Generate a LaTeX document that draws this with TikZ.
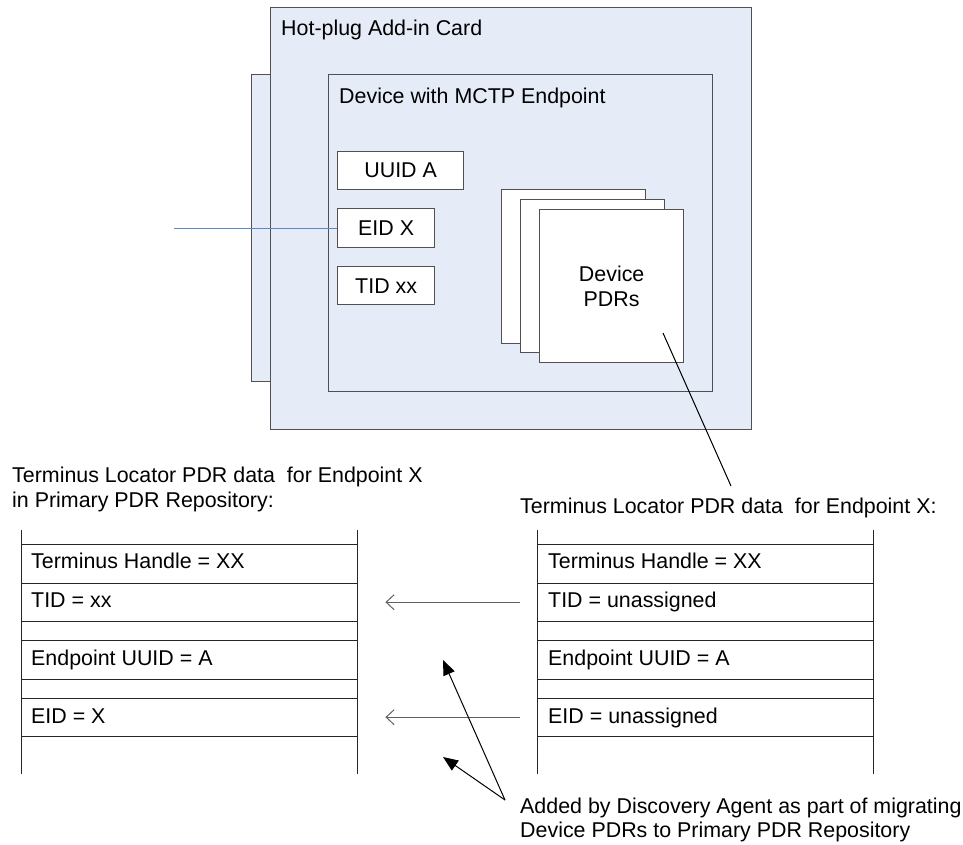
\documentclass[tikz,border=0pt]{standalone}
\usepackage{fontspec}
\setmainfont{Liberation Sans}
\usetikzlibrary{arrows.meta}
\definecolor{cardfill}{HTML}{E6ECF7}
\definecolor{edgegray}{HTML}{505050}
\definecolor{linkblue}{HTML}{5B87C5}
\definecolor{arrowgray}{HTML}{606060}
\begin{document}
\begin{tikzpicture}[x=1pt,y=-1pt,
  every node/.style={font=\fontsize{21.4}{24.5}\selectfont},
  box/.style={draw=edgegray, line width=1.3pt, inner sep=0pt, anchor=north west},
  cardbox/.style={box, fill=cardfill},
  whitebox/.style={box, fill=white},
  lbl/.style={anchor=base west, inner sep=0pt},
  rowbox/.style={inner sep=0pt, anchor=north west, minimum width=336pt},
  tline/.style={line width=1pt, draw=black!85},
  moveArrow/.style={draw=arrowgray, line width=1pt, -{Straight Barb[length=8pt,width=15pt]}},
  noteArrow/.style={draw=black, line width=1pt, -{Triangle[length=15pt,width=12pt]}}
]
\useasboundingbox (0,0) rectangle (963,845);

% ---- card ----
\node[cardbox, minimum width=19pt, minimum height=307pt] (tab) at (251,74) {};
\node[cardbox, minimum width=481pt, minimum height=422pt] (card) at (270,7) {};
\node[lbl] (cardlbl) at (281,36) {Hot-plug Add-in Card};
\node[cardbox, minimum width=384pt, minimum height=317pt] (device) at (328,74) {};
\node[lbl] (devlbl) at (339,104) {Device with MCTP Endpoint};

\node[whitebox, minimum width=126pt, minimum height=38pt] (uuid) at (337,151) {UUID A};
\node[whitebox, minimum width=97pt, minimum height=39pt] (eid) at (337,208) {EID X};
\node[whitebox, minimum width=97pt, minimum height=38pt] (tid) at (337,266) {TID xx};

\node[whitebox, minimum width=144pt, minimum height=154pt] (pdrA) at (501,189) {};
\node[whitebox, minimum width=144pt, minimum height=153pt] (pdrB) at (520,199) {};
\node[whitebox, minimum width=144pt, minimum height=153pt, align=center] (pdrC) at (539,209) {Device\\PDRs};

\coordinate (linkend) at (174,228);
\draw[linkblue, line width=1pt] (linkend) -- (linkend -| eid.west);

% ---- titles ----
\node[lbl] (ltitle1) at (12,482) {Terminus Locator PDR data\ \ for Endpoint X};
\node[lbl] (ltitle2) at (12,507) {in Primary PDR Repository:};
\node[lbl] (rtitle) at (520,513) {Terminus Locator PDR data\ \ for Endpoint X:};

\coordinate (callA) at (663,333);
\coordinate (callB) at (731,486);
\draw[line width=1pt] (callA) -- (callB);

% ---- tables ----
\foreach \tx/\tn in {21/l,537/r}{
  \draw[tline] (\tx,530) -- (\tx,774);
  \draw[tline] (\tx+336,530) -- (\tx+336,774);
  \foreach \ty in {544,583,621,640,679,698,736}
    \draw[tline] (\tx,\ty) -- (\tx+336,\ty);
  \node[rowbox, minimum height=39pt] (\tn handle) at (\tx,544) {};
  \node[rowbox, minimum height=38pt] (\tn tidrow) at (\tx,583) {};
  \node[rowbox, minimum height=39pt] (\tn uuidrow) at (\tx,640) {};
  \node[rowbox, minimum height=38pt] (\tn eidrow) at (\tx,698) {};
}
\node[lbl] (lt1) at (31,568) {Terminus Handle = XX};
\node[lbl] (lt2) at (31,607) {TID = xx};
\node[lbl] (lt3) at (31,665) {Endpoint UUID = A};
\node[lbl] (lt4) at (31,723) {EID = X};
\node[lbl] (rt1) at (548,568) {Terminus Handle = XX};
\node[lbl] (rt2) at (548,607) {TID = unassigned};
\node[lbl] (rt3) at (548,665) {Endpoint UUID = A};
\node[lbl] (rt4) at (548,723) {EID = unassigned};

\draw[moveArrow] ([xshift=-17pt]rtidrow.west) -- ([xshift=28pt]ltidrow.east);
\draw[moveArrow] ([xshift=-17pt]reidrow.west) -- ([xshift=28pt]leidrow.east);

% ---- note ----
\node[lbl] (note1) at (520,813) {Added by Discovery Agent as part of migrating};
\node[lbl] (note2) at (520,837) {Device PDRs to Primary PDR Repository};
\coordinate (agent) at (505,800);
\coordinate (tipA) at (443,660);
\coordinate (tipB) at (443,757);
\draw[noteArrow] (agent) -- (tipA);
\draw[noteArrow] (agent) -- (tipB);
\end{tikzpicture}
\end{document}
